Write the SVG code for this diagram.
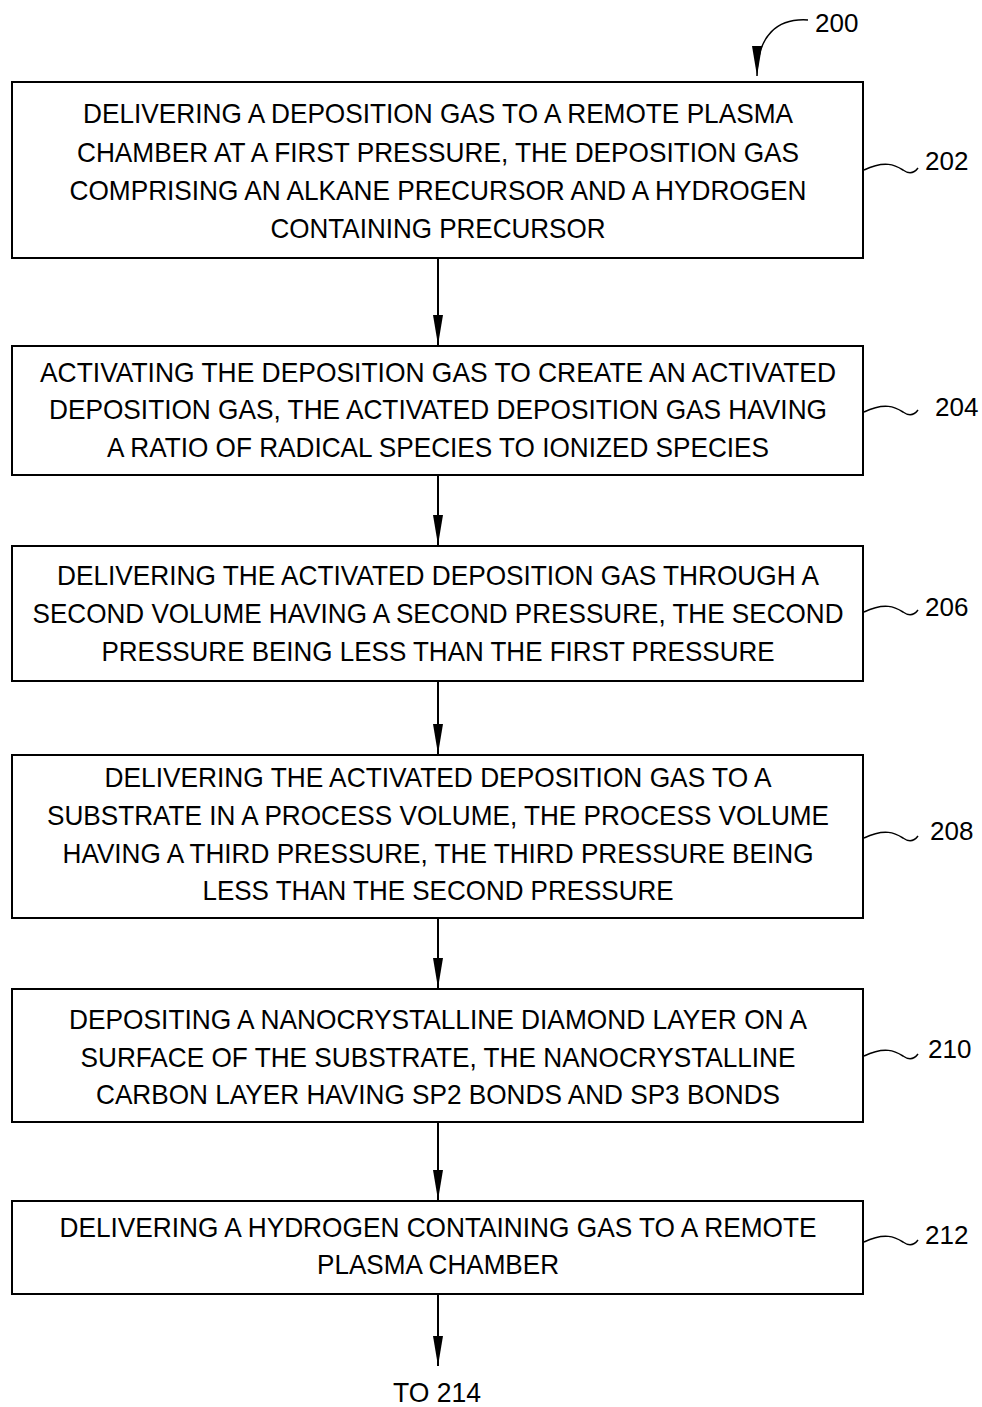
<svg xmlns="http://www.w3.org/2000/svg" width="982" height="1407" viewBox="0 0 982 1407">
<style>
.box{fill:#fff;stroke:#000;stroke-width:2}
.t{font-family:"Liberation Sans",Arial,sans-serif;font-size:28px;fill:#000;text-anchor:middle}
.n{font-family:"Liberation Sans",Arial,sans-serif;font-size:26px;fill:#000}
.c{fill:none;stroke:#000;stroke-width:2}
.s{fill:none;stroke:#000;stroke-width:1.5}
</style>
<defs>
<marker id="ah" viewBox="0 0 30 10" refX="30" refY="5" markerWidth="30" markerHeight="10" markerUnits="userSpaceOnUse" orient="auto">
<path d="M0,0 L30,5 L0,10 Z" fill="#000"/>
</marker>
</defs>
<rect width="982" height="1407" fill="#fff"/>
<g id="label200">
<text class="n" x="815" y="32">200</text>
<path class="s" d="M808,20 C778,18 757,35 757,76" marker-end="url(#ah)"/>
</g>
<g id="n202">
<rect class="box" x="12" y="82" width="851" height="176"/>
<text class="t" x="438" y="123" textLength="710" lengthAdjust="spacingAndGlyphs">DELIVERING A DEPOSITION GAS TO A REMOTE PLASMA</text>
<text class="t" x="438" y="162" textLength="722" lengthAdjust="spacingAndGlyphs">CHAMBER AT A FIRST PRESSURE, THE DEPOSITION GAS</text>
<text class="t" x="438" y="200" textLength="737" lengthAdjust="spacingAndGlyphs">COMPRISING AN ALKANE PRECURSOR AND A HYDROGEN</text>
<text class="t" x="438" y="238" textLength="335" lengthAdjust="spacingAndGlyphs">CONTAINING PRECURSOR</text>
<path class="s" d="M864,170 C885,160 895,165 903,170 C910,175 915,172 918,168"/>
<text class="n" x="925" y="170">202</text>
</g>
<g id="n204">
<rect class="box" x="12" y="346" width="851" height="129"/>
<text class="t" x="438" y="382" textLength="796" lengthAdjust="spacingAndGlyphs">ACTIVATING THE DEPOSITION GAS TO CREATE AN ACTIVATED</text>
<text class="t" x="438" y="419" textLength="778" lengthAdjust="spacingAndGlyphs">DEPOSITION GAS, THE ACTIVATED DEPOSITION GAS HAVING</text>
<text class="t" x="438" y="457" textLength="662" lengthAdjust="spacingAndGlyphs">A RATIO OF RADICAL SPECIES TO IONIZED SPECIES</text>
<path class="s" d="M864,412 C885,402 895,407 903,412 C910,417 915,414 918,410"/>
<text class="n" x="935" y="416">204</text>
</g>
<g id="n206">
<rect class="box" x="12" y="546" width="851" height="135"/>
<text class="t" x="438" y="585" textLength="762" lengthAdjust="spacingAndGlyphs">DELIVERING THE ACTIVATED DEPOSITION GAS THROUGH A</text>
<text class="t" x="438" y="623" textLength="811" lengthAdjust="spacingAndGlyphs">SECOND VOLUME HAVING A SECOND PRESSURE, THE SECOND</text>
<text class="t" x="438" y="661" textLength="673" lengthAdjust="spacingAndGlyphs">PRESSURE BEING LESS THAN THE FIRST PRESSURE</text>
<path class="s" d="M864,612 C885,602 895,607 903,612 C910,617 915,614 918,610"/>
<text class="n" x="925" y="616">206</text>
</g>
<g id="n208">
<rect class="box" x="12" y="755" width="851" height="163"/>
<text class="t" x="438" y="787" textLength="667" lengthAdjust="spacingAndGlyphs">DELIVERING THE ACTIVATED DEPOSITION GAS TO A</text>
<text class="t" x="438" y="825" textLength="782" lengthAdjust="spacingAndGlyphs">SUBSTRATE IN A PROCESS VOLUME, THE PROCESS VOLUME</text>
<text class="t" x="438" y="863" textLength="751" lengthAdjust="spacingAndGlyphs">HAVING A THIRD PRESSURE, THE THIRD PRESSURE BEING</text>
<text class="t" x="438" y="900" textLength="471" lengthAdjust="spacingAndGlyphs">LESS THAN THE SECOND PRESSURE</text>
<path class="s" d="M864,838 C885,828 895,833 903,838 C910,843 915,840 918,836"/>
<text class="n" x="930" y="840">208</text>
</g>
<g id="n210">
<rect class="box" x="12" y="989" width="851" height="133"/>
<text class="t" x="438" y="1029" textLength="738" lengthAdjust="spacingAndGlyphs">DEPOSITING A NANOCRYSTALLINE DIAMOND LAYER ON A</text>
<text class="t" x="438" y="1067" textLength="715" lengthAdjust="spacingAndGlyphs">SURFACE OF THE SUBSTRATE, THE NANOCRYSTALLINE</text>
<text class="t" x="438" y="1104" textLength="684" lengthAdjust="spacingAndGlyphs">CARBON LAYER HAVING SP2 BONDS AND SP3 BONDS</text>
<path class="s" d="M864,1056 C885,1046 895,1051 903,1056 C910,1061 915,1058 918,1054"/>
<text class="n" x="928" y="1058">210</text>
</g>
<g id="n212">
<rect class="box" x="12" y="1201" width="851" height="93"/>
<text class="t" x="438" y="1237" textLength="757" lengthAdjust="spacingAndGlyphs">DELIVERING A HYDROGEN CONTAINING GAS TO A REMOTE</text>
<text class="t" x="438" y="1274" textLength="242" lengthAdjust="spacingAndGlyphs">PLASMA CHAMBER</text>
<path class="s" d="M864,1242 C885,1232 895,1237 903,1242 C910,1247 915,1244 918,1240"/>
<text class="n" x="925" y="1244">212</text>
</g>
<g id="to214">
<text class="t" x="437" y="1402" textLength="88" lengthAdjust="spacingAndGlyphs">TO 214</text>
</g>
<g id="connectors">
<line class="c" x1="438" y1="258" x2="438" y2="345" marker-end="url(#ah)"/>
<line class="c" x1="438" y1="475" x2="438" y2="545" marker-end="url(#ah)"/>
<line class="c" x1="438" y1="681" x2="438" y2="754" marker-end="url(#ah)"/>
<line class="c" x1="438" y1="918" x2="438" y2="988" marker-end="url(#ah)"/>
<line class="c" x1="438" y1="1122" x2="438" y2="1200" marker-end="url(#ah)"/>
<line class="c" x1="438" y1="1294" x2="438" y2="1366" marker-end="url(#ah)"/>
</g>
</svg>
